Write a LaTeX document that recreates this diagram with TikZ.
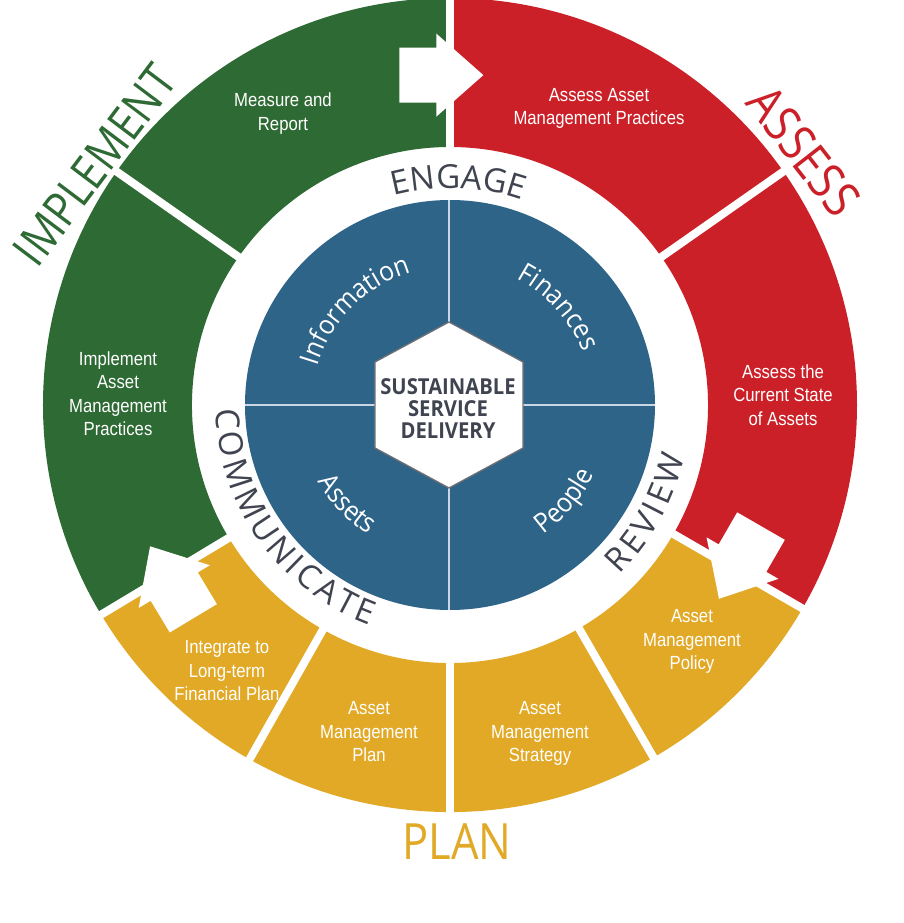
\documentclass[tikz,border=0pt]{standalone}
\usepackage{fontspec}
\setmainfont{Liberation Sans}
\newfontfamily\segfont[FakeStretch=0.88]{Liberation Sans}
\newfontfamily\osfont{Open Sans}
\newfontfamily\osqfont[FakeStretch=0.92]{Open Sans}
\newfontfamily\osbigfont[FakeStretch=0.87]{Open Sans}
\newfontfamily\oshexfont[FakeStretch=0.92]{Open Sans}
\usetikzlibrary{decorations.text}
\definecolor{amgreen}{HTML}{2E6A34}
\definecolor{amred}{HTML}{CC2028}
\definecolor{amgold}{HTML}{E1A926}
\definecolor{amblue}{HTML}{2F6489}
\definecolor{amtext}{HTML}{404450}
\definecolor{hexgray}{HTML}{6E6F74}
\definecolor{divline}{HTML}{C8D7E3}
\newcommand\ringfont{\osfont\fontsize{33}{33}\selectfont}
\newcommand\quadfont{\osqfont\fontsize{27}{27}\selectfont}
\begin{document}
\begin{tikzpicture}[x=1pt,y=1pt,
  segtext/.style={text=white, font=\segfont\fontsize{19}{23.5}\selectfont, align=center, anchor=north, inner sep=0pt},
  biglabel/.style={font=\osbigfont\fontsize{50}{50}\selectfont, inner sep=0pt},
  gapline/.style={white, line width=8pt},
  pics/flowarrow/.style={code={\fill[white] (-42,-27.5) -- (-5,-27.5) -- (-5,-41.5) -- (42,0) -- (-5,41.5) -- (-5,27.5) -- (-42,27.5) -- cycle;}}
]
\useasboundingbox (-450,-518) rectangle (454,405);
\fill[white] (-450,-518) rectangle (454,405);

% outer ring sectors
\fill[amred] (90:407) arc[start angle=90, end angle=-30, radius=407] -- (-30:258) arc[start angle=-30, end angle=90, radius=258] -- cycle;
\fill[amgreen] (90:407) arc[start angle=90, end angle=211, radius=407] -- (211:258) arc[start angle=211, end angle=90, radius=258] -- cycle;
\fill[amgold] (211:407) arc[start angle=211, end angle=330, radius=407] -- (330:258) arc[start angle=330, end angle=211, radius=258] -- cycle;
\foreach \a in {90,35,-30,-60,-90,-119.5,-149,145}
  \draw[gapline] (\a:250) -- (\a:416);

% arrows
\pic[rotate=0] at (91.5:330) {flowarrow};
\pic[rotate=240] at (331.5:330) {flowarrow};
\pic[rotate=121] at (212.5:330) {flowarrow};

% blue disk
\fill[amblue] (0,0) circle[radius=205];
\draw[divline, line width=1.3pt] (-205,0) -- (205,0);
\draw[divline, line width=1.3pt] (-1,-205) -- (-1,205);

% hexagon
\draw[fill=white, draw=hexgray, line width=1.3pt] (-1,83) -- (73,43) -- (73,-43) -- (-1,-83) -- (-75,-43) -- (-75,43) -- cycle;
\node[anchor=north, inner sep=0pt, align=center, text=amtext, font=\oshexfont\bfseries\fontsize{22}{22}\selectfont] (ssd) at (-2,27) {SUSTAINABLE\\SERVICE\\DELIVERY};

% segment texts
\node[segtext] (measure) at (-167,312) {Measure and\\Report};
\node[segtext] (assessprac) at (149,317) {Assess Asset\\Management Practices};
\node[segtext] (assessstate) at (333,40.5) {Assess the\\Current State\\of Assets};
\node[segtext] (policy) at (242,-204.5) {Asset\\Management\\Policy};
\node[segtext] (strategy) at (90,-296.5) {Asset\\Management\\Strategy};
\node[segtext] (amplan) at (-81,-296.5) {Asset\\Management\\Plan};
\node[segtext] (integrate) at (-223,-235.5) {Integrate to\\Long-term\\Financial Plan};
\node[segtext] (implprac) at (-332,53.5) {Implement\\Asset\\Management\\Practices};

% big labels
\node[biglabel, text=amgreen, rotate=53, font=\osbigfont\fontsize{48}{48}\selectfont] (implement) at (-355,240) {IMPLEMENT};
\node[biglabel, text=amred, rotate=-52] (assess) at (354,254) {ASSESS};
\node[biglabel, text=amgold] (plan) at (7,-436.5) {PLAN};

% ring words
\path[decorate, decoration={text along path, text={|\ringfont|ENGAGE}, text color=amtext, text align=fit to path}]
  (105:217) arc[start angle=105, end angle=70.5, radius=217];
\path[decorate, decoration={text along path, text={|\ringfont|COMMUNICATE}, text color=amtext, text align=fit to path}]
  (181:234) arc[start angle=181, end angle=250, radius=234];
\path[decorate, decoration={text along path, text={|\ringfont|REVIEW}, text color=amtext, text align=fit to path}]
  (-45:240) arc[start angle=-45, end angle=-12.5, radius=240];

% quadrant words
\path[decorate, decoration={text along path, text={|\quadfont|Information}, text color=white, text align=center}]
  (175:138) arc[start angle=175, end angle=95, radius=138];
\path[decorate, decoration={text along path, text={|\quadfont|Finances}, text color=white, text align=center}]
  (82:143) arc[start angle=82, end angle=2, radius=143];
\path[decorate, decoration={text along path, text={|\quadfont|Assets}, text color=white, text align=center}]
  (184:153) arc[start angle=184, end angle=264, radius=153];
\path[decorate, decoration={text along path, text={|\quadfont|People}, text color=white, text align=center}]
  (-80:160) arc[start angle=-80, end angle=0, radius=160];
\end{tikzpicture}
\end{document}
